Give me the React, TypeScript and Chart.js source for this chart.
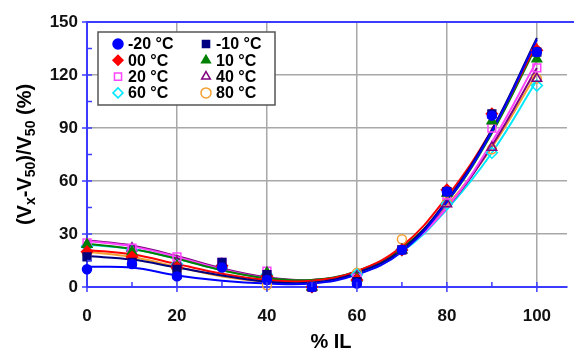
import React, { useEffect, useRef } from 'react';
import { Chart, registerables } from 'chart.js';
import { drawPoint } from 'chart.js/helpers';
Chart.register(...registerables);

// ---- Data ----
const xValues = [0, 10, 20, 30, 40, 50, 60, 70, 80, 90, 100];
const seriesLabels = ['-20 °C', '-10 °C', '00 °C', '10 °C', '20 °C', '40 °C', '60 °C', '80 °C'];

// measured points
const pts_m20 = [10, 13, 6, 11, 4, 0, 2, 21, 54, 97, 133];
const pts_m10 = [17, 14, 10, 14, 7, 0, 3, 21, 54, 98, 133];
const pts_00 = [20, 17, 11, 12, 6, 0, 4, 21, 55, 98, 134];
const pts_10 = [24, 20, 12, 12, 8, 0, 5, 21, 53, 94, 129];
const pts_20 = [25, 22, 17, 14, 9, 0, 5, 21, 52, 90, 124];
const pts_40 = [24, 22, 14, 13, 8, 0, 6, 21, 47, 79, 118];
const pts_60 = [23, 21, 13, 12, 7, 0, 7, 21, 47, 76, 114];
const pts_80 = [19, 18, 10, 11, 1, 0, 8, 27, 48, 78, 118];

// trend curves
const fit_m20 = [11.5, 11, 6.5, 3.5, 2, 2, 7, 20, 48, 88, 140];
const fit_m10 = [17.5, 15.5, 11, 6.5, 3, 2.5, 8, 21, 49, 89, 141];
const fit_00 = [21, 18.5, 13, 7.5, 4, 3.5, 9, 23, 51, 89, 138];
const fit_10 = [24.5, 21.5, 16, 9.5, 5, 4, 9, 22, 48, 87, 137];
const fit_20 = [26, 23, 17, 10, 5, 4, 8.5, 21, 45, 82, 128];
const fit_40 = [26.5, 23.5, 17.5, 10.5, 5.5, 4, 8.5, 21, 45, 80, 124];
const fit_60 = [24, 21.5, 16, 9.5, 5, 3.5, 8, 20, 44, 76, 117];
const fit_80 = [20, 17, 11.5, 6, 3, 2.5, 8, 21, 46, 79, 121];

const xTickValues = [0, 10, 20, 30, 40, 50, 60, 70, 80, 90, 100];
const xTickLabels = [0, 20, 40, 60, 80, 100];
const yTickLabels = [0, 30, 60, 90, 120, 150];

const pointsList = [pts_m20, pts_m10, pts_00, pts_10, pts_20, pts_40, pts_60, pts_80];
const fitsList = [fit_m20, fit_m10, fit_00, fit_10, fit_20, fit_40, fit_60, fit_80];

// ---- Styles ----
const colors = ['#0000ff', '#000080', '#ff0000', '#008000', '#ff44ff', '#800080', '#00e8ff', '#f5a030'];
const markerStyles = ['circle', 'rect', 'rectRot', 'triangle', 'rect', 'triangle', 'rectRot', 'circle'];
const filled = [true, true, true, true, false, false, false, false];
const FONT = "'Liberation Sans', Arial, sans-serif";
const AXIS_BLUE = '#3c3cff';
const GRID_GRAY = '#a8a8a8';

const decorPlugin = {
  id: 'decor',
  afterDatasetsDraw(chart: any) {
    const ctx = chart.ctx;
    const { left, right, top, bottom } = chart.chartArea;
    const xs = chart.scales.x;
    const ys = chart.scales.y;
    ctx.save();
    ctx.strokeStyle = AXIS_BLUE;
    ctx.lineWidth = 2;
    ctx.beginPath();
    ctx.moveTo(left, top);
    ctx.lineTo(574, top);
    ctx.stroke();
    ctx.lineWidth = 1.5;
    for (let v = 0; v <= 100; v += 10) {
      const px = xs.getPixelForValue(v);
      const major = v % 20 === 0;
      ctx.beginPath();
      ctx.moveTo(px, bottom - 5);
      ctx.lineTo(px, major ? bottom + 5 : bottom);
      ctx.stroke();
    }
    for (let v = 0; v <= 150; v += 15) {
      const py = ys.getPixelForValue(v);
      const major = v % 30 === 0;
      ctx.beginPath();
      ctx.moveTo(major ? left - 5 : left, py);
      ctx.lineTo(left + 5, py);
      ctx.stroke();
    }
    ctx.restore();
  },
  afterDraw(chart: any) {
    const ctx = chart.ctx;
    const { top, bottom } = chart.chartArea;
    ctx.save();
    ctx.fillStyle = '#000';
    ctx.font = `bold 20px ${FONT}`;
    ctx.textAlign = 'center';
    ctx.textBaseline = 'middle';
    ctx.fillText('% IL', 331, 342);

    const parts: [string, boolean][] = [
      ['(V', false], ['x', true], ['-V', false], ['50', true], [')/V', false], ['50', true], [' (%)', false],
    ];
    const bigFont = `bold 20px ${FONT}`;
    const smallFont = `bold 14px ${FONT}`;
    let total = 0;
    for (const [t, sub] of parts) {
      ctx.font = sub ? smallFont : bigFont;
      total += ctx.measureText(t).width;
    }
    ctx.translate(24, (top + bottom) / 2);
    ctx.rotate(-Math.PI / 2);
    ctx.textAlign = 'left';
    ctx.textBaseline = 'alphabetic';
    let cx = -total / 2;
    for (const [t, sub] of parts) {
      ctx.font = sub ? smallFont : bigFont;
      ctx.fillText(t, cx, sub ? 11 : 7);
      cx += ctx.measureText(t).width;
    }
    ctx.restore();

    ctx.save();
    const bx = 98, by = 32, bw = 177, bh = 73;
    ctx.fillStyle = '#fff';
    ctx.fillRect(bx, by, bw, bh);
    ctx.strokeStyle = '#555';
    ctx.lineWidth = 1.5;
    ctx.strokeRect(bx, by, bw, bh);
    ctx.font = `bold 16px ${FONT}`;
    ctx.textBaseline = 'middle';
    ctx.textAlign = 'left';
    seriesLabels.forEach((lab, i) => {
      const col = i % 2;
      const row = Math.floor(i / 2);
      const mx = 118 + col * 88;
      const my = 44 + row * 16.3;
      ctx.fillStyle = filled[i] ? colors[i] : 'rgba(255,255,255,0)';
      ctx.strokeStyle = colors[i];
      ctx.lineWidth = 1.5;
      drawPoint(ctx, { pointStyle: markerStyles[i], radius: 5, rotation: 0, borderWidth: 1.5 } as any, mx, my);
      ctx.fillStyle = '#000';
      ctx.fillText(lab, mx + 10, my + 1);
    });
    ctx.restore();
  },
};

export default function App() {
  const ref = useRef<HTMLCanvasElement>(null);
  useEffect(() => {
    const datasets: any[] = [];
    fitsList.forEach((fit, i) => {
      datasets.push({
        label: seriesLabels[i] + ' fit',
        data: xValues.map((x, k) => ({ x, y: fit[k] })),
        showLine: true,
        borderColor: colors[i],
        borderWidth: 2,
        pointRadius: 0,
        tension: 0.4,
        order: 2,
        clip: false,
      });
    });
    pointsList.forEach((pts, i) => {
      datasets.push({
        label: seriesLabels[i],
        data: xValues.map((x, k) => ({ x, y: pts[k] })),
        showLine: false,
        pointStyle: markerStyles[i],
        pointRadius: markerStyles[i] === 'circle' ? 4.5 : 5.5,
        pointBorderWidth: 1.5,
        borderColor: colors[i],
        backgroundColor: filled[i] ? colors[i] : 'rgba(255,255,255,0)',
        order: 1,
        clip: false,
      });
    });
    const chart = new Chart(ref.current!, {
      type: 'scatter',
      data: { datasets },
      plugins: [decorPlugin],
      options: {
        responsive: false,
        animation: false,
        events: [],
        layout: { padding: { top: 22, right: 0, left: 0, bottom: 0 } },
        plugins: { legend: { display: false }, tooltip: { enabled: false } },
        scales: {
          x: {
            type: 'linear',
            min: 0,
            max: 106.7,
            afterBuildTicks: (s: any) => { s.ticks = xTickValues.map((v) => ({ value: v })); },
            afterFit: (s: any) => { s.height = 65; },
            ticks: {
              autoSkip: false,
              maxRotation: 0,
              padding: 19,
              color: '#111',
              font: { family: FONT, size: 17, weight: 'bold' },
              callback: (v: any) => (xTickLabels.includes(v) ? String(v) : ''),
            },
            grid: {
              drawTicks: false,
              lineWidth: 1.5,
              color: (c: any) => {
                const v = c.tick ? c.tick.value : -1;
                return v > 0 && v <= 100 && v % 20 === 0 ? GRID_GRAY : 'rgba(0,0,0,0)';
              },
            },
            border: { display: true, color: AXIS_BLUE, width: 2 },
          },
          y: {
            type: 'linear',
            min: 0,
            max: 150,
            afterFit: (s: any) => { s.width = 87; },
            ticks: {
              stepSize: 15,
              autoSkip: false,
              padding: 9,
              color: '#111',
              font: { family: FONT, size: 17, weight: 'bold' },
              callback: (v: any) => (yTickLabels.includes(v) ? String(v) : ''),
            },
            grid: {
              drawTicks: false,
              lineWidth: 1.5,
              color: (c: any) => {
                const v = c.tick ? c.tick.value : -1;
                return v > 0 && v < 150 && v % 30 === 0 ? GRID_GRAY : 'rgba(0,0,0,0)';
              },
            },
            border: { display: true, color: AXIS_BLUE, width: 2 },
          },
        },
      } as any,
    });
    return () => chart.destroy();
  }, []);
  return (
    <div style={{ position: 'fixed', left: 0, top: 0, width: 574, height: 352, background: '#fff' }}>
      <canvas ref={ref} width={574} height={352} style={{ display: 'block' }} />
    </div>
  );
}
